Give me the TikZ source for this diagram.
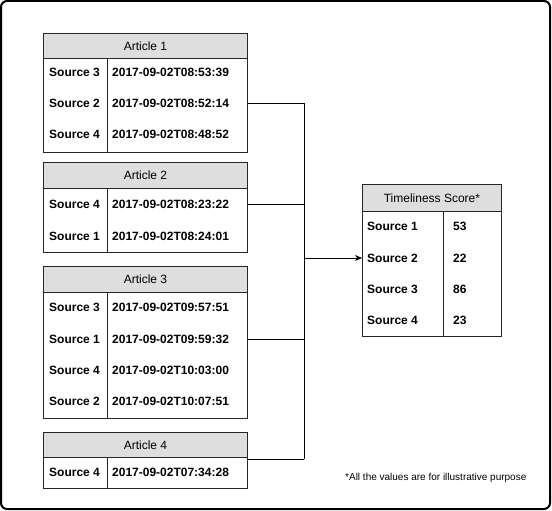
\documentclass[tikz,border=0pt]{standalone}
\usepackage{fontspec}
\setmainfont{Liberation Sans}
\usetikzlibrary{arrows.meta}
\begin{document}
\begin{tikzpicture}[x=1pt,y=-1pt,
  hdr/.style={draw=black!85,fill=black!13,line width=0.9pt,anchor=north west,inner sep=0pt,font=\fontsize{12}{14}\selectfont},
  bodybox/.style={draw=black!85,fill=white,line width=0.9pt,anchor=north west,inner sep=0pt},
  divider/.style={draw=black!85,line width=0.9pt},
  lab/.style={anchor=west,inner sep=0pt,font=\fontsize{12}{14}\selectfont\bfseries},
  conn/.style={draw=black,line width=0.9pt},
  outer/.style={draw=black,line width=2pt,rounded corners=6pt}
]
\useasboundingbox (0,0) rectangle (552,511);
\path[outer] (1,1) rectangle (550,509);

% Article 1
\node[bodybox,minimum width=204pt,minimum height=94pt] (a1b) at (43,58) {};
\node[hdr,minimum width=204pt,minimum height=25pt] (a1h) at (43,33) {Article 1};
\draw[divider] (a1b.north west -| 107,0) -- (a1b.south west -| 107,0);
\node[lab] (a1s1) at (49,72) {Source 3};
\node[lab] (a1t1) at (112,72) {2017-09-02T08:53:39};
\node[lab] (a1s2) at (49,103) {Source 2};
\node[lab] (a1t2) at (112,103) {2017-09-02T08:52:14};
\node[lab] (a1s3) at (49,134.5) {Source 4};
\node[lab] (a1t3) at (112,134.5) {2017-09-02T08:48:52};

% Article 2
\node[bodybox,minimum width=204pt,minimum height=64pt] (a2b) at (43,188) {};
\node[hdr,minimum width=204pt,minimum height=26pt] (a2h) at (43,162) {Article 2};
\draw[divider] (a2b.north west -| 107,0) -- (a2b.south west -| 107,0);
\node[lab] (a2s1) at (49,204) {Source 4};
\node[lab] (a2t1) at (112,204) {2017-09-02T08:23:22};
\node[lab] (a2s2) at (49,236) {Source 1};
\node[lab] (a2t2) at (112,236) {2017-09-02T08:24:01};

% Article 3
\node[bodybox,minimum width=204pt,minimum height=126pt] (a3b) at (43,292) {};
\node[hdr,minimum width=204pt,minimum height=26pt] (a3h) at (43,266) {Article 3};
\draw[divider] (a3b.north west -| 107,0) -- (a3b.south west -| 107,0);
\node[lab] (a3s1) at (49,307) {Source 3};
\node[lab] (a3t1) at (112,307) {2017-09-02T09:57:51};
\node[lab] (a3s2) at (49,339) {Source 1};
\node[lab] (a3t2) at (112,339) {2017-09-02T09:59:32};
\node[lab] (a3s3) at (49,370) {Source 4};
\node[lab] (a3t3) at (112,370) {2017-09-02T10:03:00};
\node[lab] (a3s4) at (49,401) {Source 2};
\node[lab] (a3t4) at (112,401) {2017-09-02T10:07:51};

% Article 4
\node[bodybox,minimum width=204pt,minimum height=31pt] (a4b) at (43,457) {};
\node[hdr,minimum width=204pt,minimum height=25pt] (a4h) at (43,432) {Article 4};
\draw[divider] (a4b.north west -| 107,0) -- (a4b.south west -| 107,0);
\node[lab] (a4s1) at (49,472) {Source 4};
\node[lab] (a4t1) at (112,472) {2017-09-02T07:34:28};

% Timeliness score
\node[bodybox,minimum width=139pt,minimum height=125pt] (tsb) at (362,211) {};
\node[hdr,minimum width=139pt,minimum height=27pt] (tsh) at (362,184) {Timeliness Score*};
\draw[divider] (tsb.north west -| 443,0) -- (tsb.south west -| 443,0);
\node[lab] (ts1) at (367,226) {Source 1};
\node[lab] (tv1) at (453,226) {53};
\node[lab] (ts2) at (367,258) {Source 2};
\node[lab] (tv2) at (453,258) {22};
\node[lab] (ts3) at (367,289) {Source 3};
\node[lab] (tv3) at (453,289) {86};
\node[lab] (ts4) at (367,320) {Source 4};
\node[lab] (tv4) at (453,320) {23};

% connectors
\coordinate (j1) at (304,103);
\coordinate (j2) at (304,204);
\coordinate (j3) at (304,339);
\coordinate (j4) at (304,459);
\coordinate (jm) at (304,258);
\draw[conn] (a1b.east |- j1) -- (j1);
\draw[conn] (a2b.east |- j2) -- (j2);
\draw[conn] (a3b.east |- j3) -- (j3);
\draw[conn] (a4b.east |- j4) -- (j4);
\draw[conn] (j1) -- (j4);
\draw[conn,-{Stealth[length=7pt,width=6pt]}] (jm) -- (tsb.west |- jm);

\node[anchor=west,inner sep=0pt,font=\fontsize{10}{12}\selectfont] (note) at (345,478) {*All the values are for illustrative purpose};
\end{tikzpicture}
\end{document}
